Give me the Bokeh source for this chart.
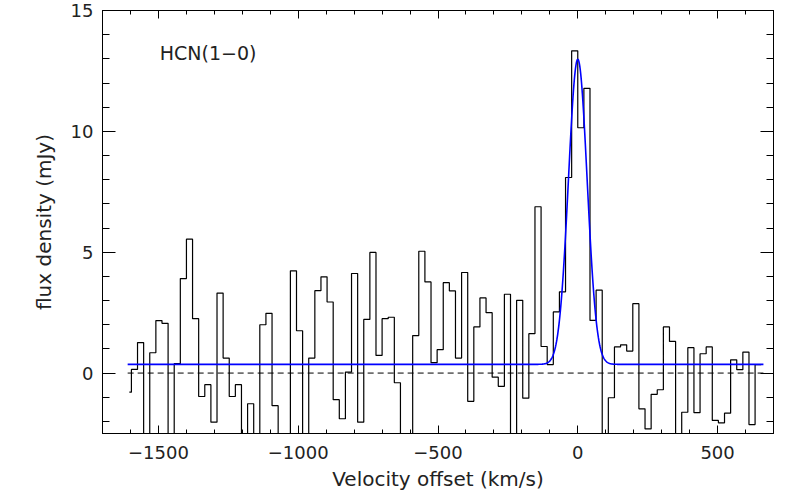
import numpy as np
from bokeh.plotting import figure
from bokeh.models import (LinearAxis, SingleIntervalTicker, CustomJSTickFormatter,
                          Label, Range1d)
from bokeh.embed import file_html
from bokeh.resources import INLINE

# ---- data ----
# spectral channels (km/s): partial first channel start, first full-channel edge, width, end
SPEC_START = -1604.0
FIRST_EDGE = -1596.6
CHANNEL_WIDTH = 21.87
SPEC_END = 656.0

# flux density per channel (mJy); values below the axis bottom are off-scale
flux = [
    -0.79, 0.15, 1.26, -3.5, 0.84, 2.17, 2.06, -3.5, 0.39, 3.91,
    5.54, 2.25, -0.97, -0.48, -2.03, 3.31, 0.62, -0.97, -0.48, -3.5,
    -1.27, -3.5, 2.00, 2.47, -1.35, -3.5, -3.5, 4.23, 1.75, -3.5,
    0.62, 3.41, 3.98, 2.94, -1.10, -1.89, 0.04, 4.12, -2.03, 2.22,
    4.99, 0.73, 2.25, 2.31, -0.40, -3.5, -3.5, 1.55, 5.04, 3.77,
    0.43, 0.97, 3.74, 3.40, 0.62, 4.16, -1.17, 1.91, 3.11, 2.50,
    -0.17, -0.55, 3.26, -3.5, 3.01, -1.04, 1.63, 6.88, 1.10, 0.35,
    2.53, 3.36, 8.09, 13.33, 10.15, 11.78, 2.18, 3.43, -3.5, -1.02,
    1.08, 1.17, 0.91, 2.87, -1.48, -2.31, -0.88, -0.69, 1.91, 1.31,
    -3.5, -1.62, 1.05, -1.64, 0.80, 1.08, -1.96, -2.06, -1.66, 0.55,
    0.14, 0.87, -2.13, 0.35,
]

# Gaussian fit parameters
FIT_BASELINE = 0.36   # mJy
FIT_AMPLITUDE = 12.62 # mJy
FIT_CENTER = 0.0      # km/s
FIT_SIGMA = 33.4      # km/s
FIT_VMIN, FIT_VMAX = -1610.0, 664.0

line_label = "HCN(1\u22120)"
x_title = "Velocity offset (km/s)"
y_title = "flux density (mJy)"

# ---- derived ----
n_full = len(flux) - 1
edges = [SPEC_START] + list(FIRST_EDGE + CHANNEL_WIDTH * np.arange(n_full)) + [SPEC_END]
step_y = flux + [flux[-1]]

vfit = np.linspace(FIT_VMIN, FIT_VMAX, 1500)
ffit = FIT_BASELINE + FIT_AMPLITUDE * np.exp(-(vfit - FIT_CENTER) ** 2 / (2 * FIT_SIGMA ** 2))

FONT = "DejaVu Sans"
TXT = "#222222"

p = figure(width=788, height=498, x_range=Range1d(-1700, 700), y_range=Range1d(-2.5, 15),
           output_backend="svg", toolbar_location=None,
           min_border_left=102, min_border_right=15, min_border_top=10, min_border_bottom=65)
p.grid.visible = False
p.outline_line_color = "black"
p.background_fill_color = "white"
p.border_fill_color = "white"

fmt = CustomJSTickFormatter(code="return tick < 0 ? '\\u2212' + Math.abs(tick) : String(tick);")
blank = CustomJSTickFormatter(code="return '';")

xa = p.xaxis[0]
xa.ticker = SingleIntervalTicker(interval=500, num_minor_ticks=5)
xa.formatter = fmt
ya = p.yaxis[0]
ya.ticker = SingleIntervalTicker(interval=5, num_minor_ticks=5)

for ax, major, minor in ((xa, 8, 4), (ya, 13, 7)):
    ax.major_tick_in = major
    ax.major_tick_out = 0
    ax.minor_tick_in = minor
    ax.minor_tick_out = 0
    ax.axis_line_color = "black"
    ax.major_tick_line_color = "black"
    ax.minor_tick_line_color = "black"
    ax.major_label_text_font = FONT
    ax.major_label_text_font_size = "18px"
    ax.major_label_text_color = TXT
    ax.axis_label_text_font = FONT
    ax.axis_label_text_font_size = "20px"
    ax.axis_label_text_font_style = "normal"
    ax.axis_label_text_color = TXT

xa.axis_label = x_title
xa.major_label_standoff = 12
xa.axis_label_standoff = 5
ya.axis_label = y_title
ya.major_label_standoff = 9
ya.axis_label_standoff = 12

# mirrored axes (ticks only)
top = LinearAxis(ticker=SingleIntervalTicker(interval=500, num_minor_ticks=5), formatter=blank,
                 major_tick_in=8, major_tick_out=0, minor_tick_in=4, minor_tick_out=0,
                 major_label_standoff=0)
right = LinearAxis(ticker=SingleIntervalTicker(interval=5, num_minor_ticks=5), formatter=blank,
                   major_tick_in=13, major_tick_out=0, minor_tick_in=7, minor_tick_out=0,
                   major_label_standoff=0)
p.add_layout(top, "above")
p.add_layout(right, "right")

# zero line
p.line([FIT_VMIN, FIT_VMAX], [0, 0], line_color="black", line_width=1, line_dash="6 4")
# spectrum
p.step(edges, step_y, mode="after", line_color="black", line_width=1.2)
# fit
p.line(vfit, ffit, line_color="#0000ff", line_width=1.6)

p.add_layout(Label(x=-1495, y=13.25, text=line_label, text_font=FONT, text_font_size="19px",
                   text_color=TXT, text_baseline="middle", text_align="left"))

open("out.html", "w").write(file_html(p, INLINE))
